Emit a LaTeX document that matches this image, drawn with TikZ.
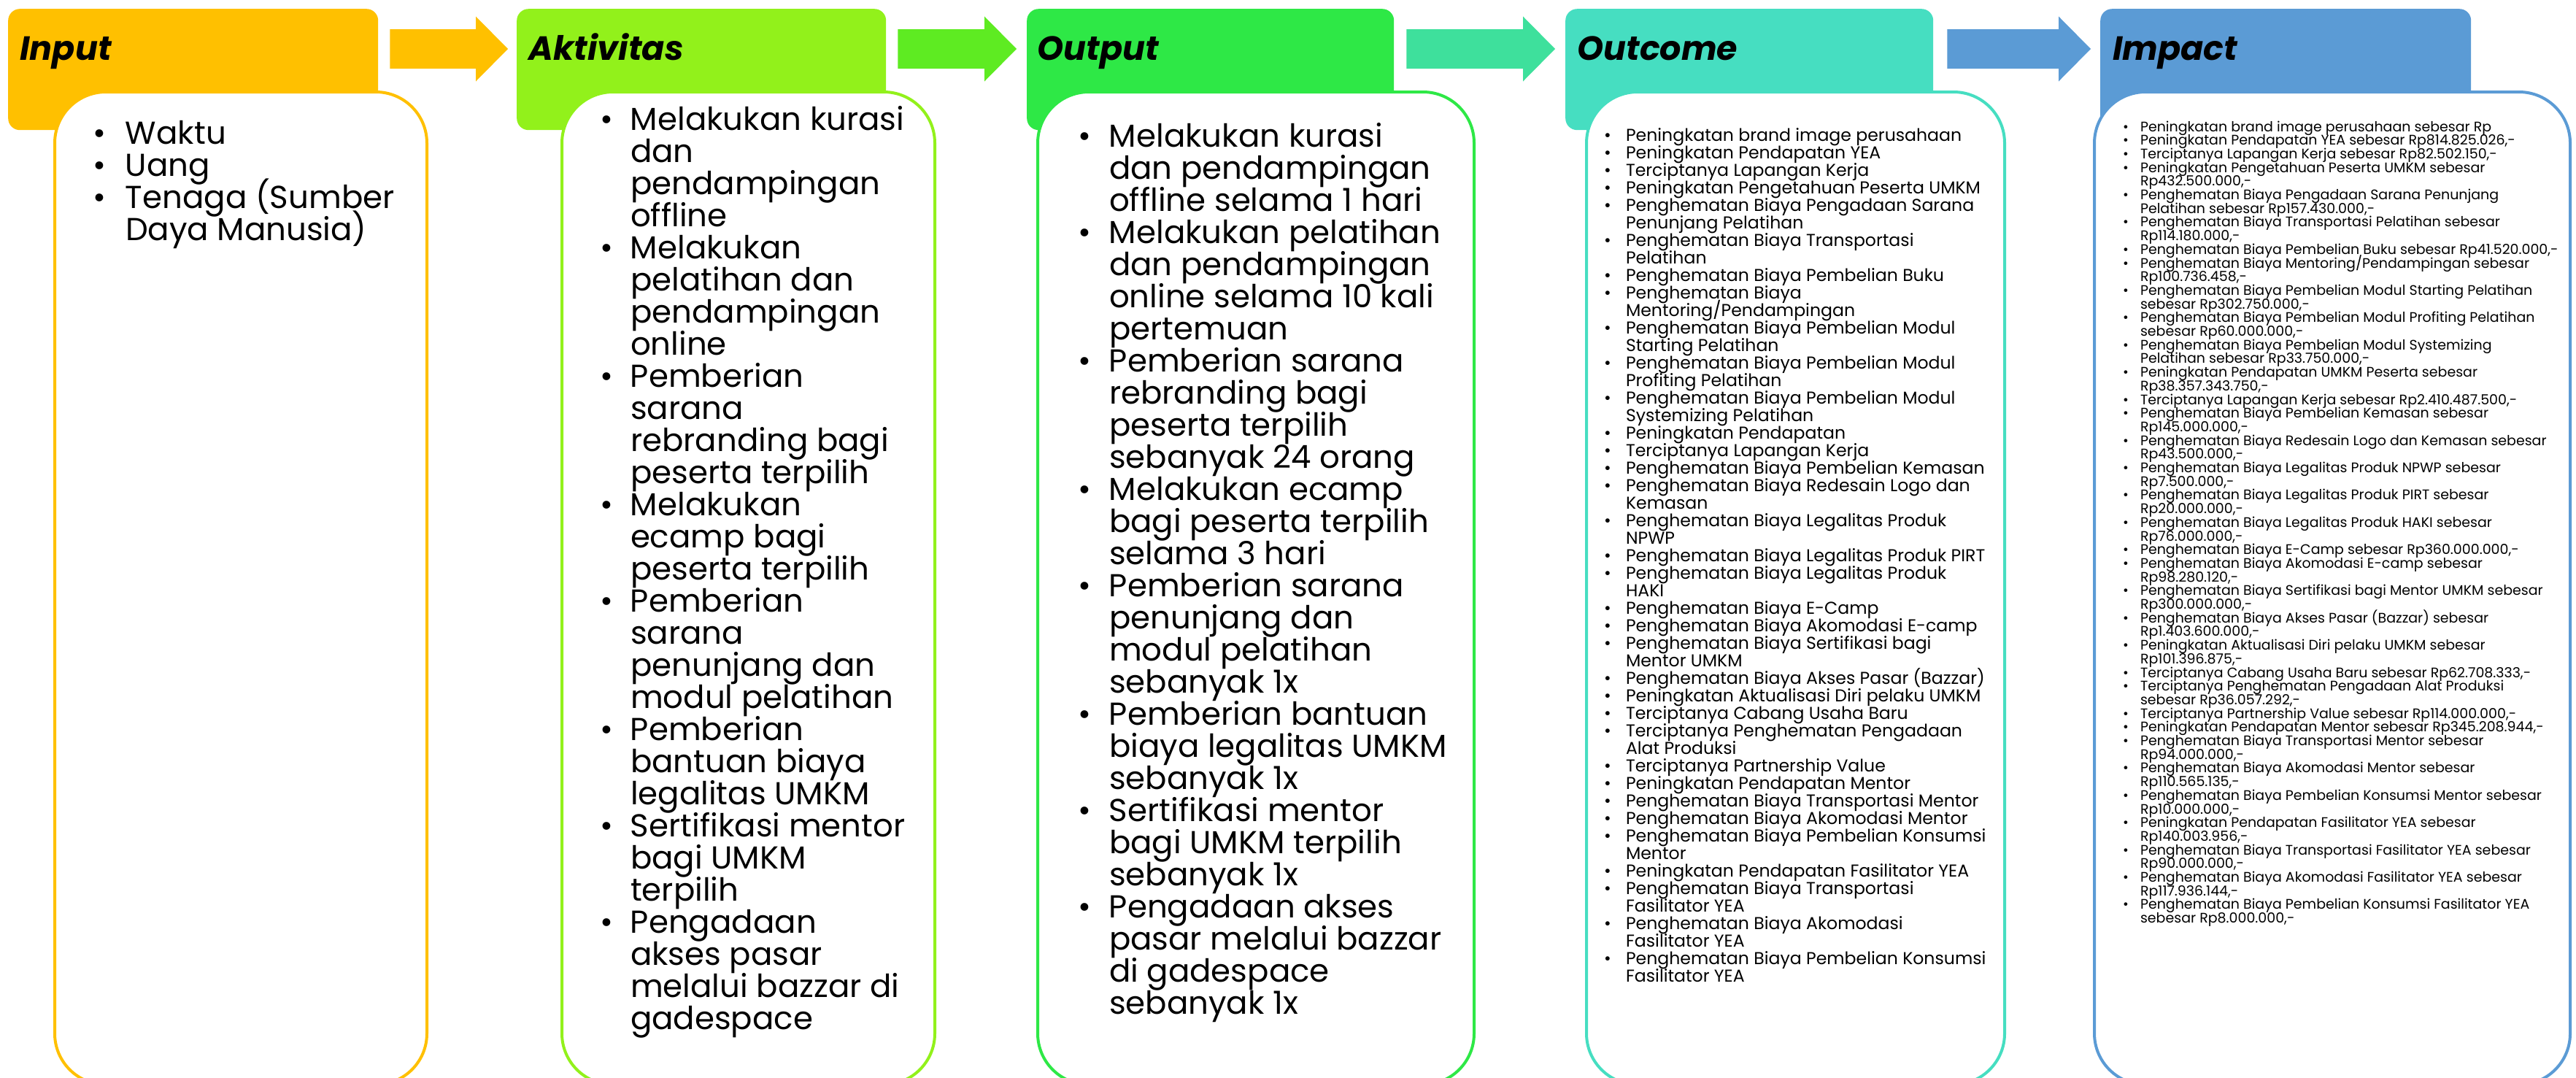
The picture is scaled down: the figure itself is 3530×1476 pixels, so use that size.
\documentclass[tikz,border=0pt]{standalone}
\usepackage{fontspec}
\setmainfont{Poppins}
\usetikzlibrary{calc}
\definecolor{cIn}{HTML}{FFC000}
\definecolor{cAk}{HTML}{92F11B}
\definecolor{cOp}{HTML}{2EE846}
\definecolor{cOc}{HTML}{46DEC1}
\definecolor{cIm}{HTML}{5B9BD5}
\definecolor{aAk}{HTML}{5EEB22}
\definecolor{aOc}{HTML}{3EE09C}
\newlength\bind
\newcommand\bi[1]{\hbox{\makebox[\bind][l]{\textbullet}#1}}
\newcommand\ci[1]{\hbox{\hspace*{\bind}#1}}
\newcommand\colfont[2]{\fontsize{#1}{#2}\selectfont\lineskiplimit=-1000pt\lineskip=0pt\relax}
\newcommand\blkarrow[3]{%
  \fill[#3] ($(#1)+(0,-27)$) -- ($(#2)+(-44,-27)$) -- ($(#2)+(-44,-44.5)$) -- (#2)
    -- ($(#2)+(-44,44.5)$) -- ($(#2)+(-44,27)$) -- ($(#1)+(0,27)$) -- cycle;}
\tikzset{
  hdr/.style={anchor=north west, rounded corners=16, minimum height=166, inner sep=0, draw=none},
  ttl/.style={anchor=base west, inner sep=0, font=\fontsize{46}{50}\selectfont\bfseries\itshape},
  wbox/.style={anchor=north west, fill=white, line width=4, rounded corners=70, minimum height=1360, inner sep=0},
  txt/.style={anchor=base west, inner sep=0, outer sep=0}
}
\begin{document}
\begin{tikzpicture}[x=1pt,y=-1pt]
\useasboundingbox (0,0) rectangle (3530,1476);
\fill[white] (0,0) rectangle (3530,1476);
% headers
\node[hdr, fill=cIn, minimum width=507] (inH) at (11,12) {};
\node[hdr, fill=cAk, minimum width=506] (akH) at (708,12) {};
\node[hdr, fill=cOp, minimum width=503] (opH) at (1407,12) {};
\node[hdr, fill=cOc, minimum width=504] (ocH) at (2145,12) {};
\node[hdr, fill=cIm, minimum width=508] (imH) at (2878,12) {};
% titles
\node[ttl] (inL) at ($(inH.north west)+(16,70)$) {Input};
\node[ttl] (akL) at ($(akH.north west)+(16,70)$) {Aktivitas};
\node[ttl] (opL) at ($(opH.north west)+(14,70)$) {Output};
\node[ttl] (ocL) at ($(ocH.north west)+(16,70)$) {Outcome};
\node[ttl] (imL) at ($(imH.north west)+(17,70)$) {Impact};
% arrows
\coordinate (a1s) at ($(inH.north east)+(16,55)$);
\coordinate (a1t) at ($(akH.north west)+(-12,55)$);
\coordinate (a2s) at ($(akH.north east)+(16,55)$);
\coordinate (a2t) at ($(opH.north west)+(-14,55)$);
\coordinate (a3s) at ($(opH.north east)+(17,55)$);
\coordinate (a3t) at ($(ocH.north west)+(-14,55)$);
\coordinate (a4s) at ($(ocH.north east)+(19,55)$);
\coordinate (a4t) at ($(imH.north west)+(-13,55)$);
\blkarrow{a1s}{a1t}{cIn}
\blkarrow{a2s}{a2t}{aAk}
\blkarrow{a3s}{a3t}{aOc}
\blkarrow{a4s}{a4t}{cIm}
% white boxes
\node[wbox, draw=cIn, minimum width=510] (inB) at (73,124) {};
\node[wbox, draw=cAk, minimum width=511] (akB) at (768,124) {};
\node[wbox, draw=cOp, minimum width=598] (opB) at (1420,124) {};
\node[wbox, draw=cOc, minimum width=573] (ocB) at (2172,124) {};
\node[wbox, draw=cIm, minimum width=652] (imB) at (2868,124) {};
% texts
\node[txt] (inT) at (127,197) {\vtop{\colfont{43.5}{44}\setlength\bind{45pt}%
\bi{Waktu}
\bi{Uang}
\bi{Tenaga (Sumber}
\ci{Daya Manusia)}}};
\node[txt] (akT) at (822,178) {\vtop{\colfont{43.5}{44}\setlength\bind{42pt}%
\bi{Melakukan kurasi}
\ci{dan}
\ci{pendampingan}
\ci{offline}
\bi{Melakukan}
\ci{pelatihan dan}
\ci{pendampingan}
\ci{online}
\bi{Pemberian}
\ci{sarana}
\ci{rebranding bagi}
\ci{peserta terpilih}
\bi{Melakukan}
\ci{ecamp bagi}
\ci{peserta terpilih}
\bi{Pemberian}
\ci{sarana}
\ci{penunjang dan}
\ci{modul pelatihan}
\bi{Pemberian}
\ci{bantuan biaya}
\ci{legalitas UMKM}
\bi{Sertifikasi mentor}
\ci{bagi UMKM}
\ci{terpilih}
\bi{Pengadaan}
\ci{akses pasar}
\ci{melalui bazzar di}
\ci{gadespace}}};
\node[txt] (opT) at (1477,201) {\vtop{\colfont{43.5}{44}\setlength\bind{43pt}%
\bi{Melakukan kurasi}
\ci{dan pendampingan}
\ci{offline selama 1 hari}
\bi{Melakukan pelatihan}
\ci{dan pendampingan}
\ci{online selama 10 kali}
\ci{pertemuan}
\bi{Pemberian sarana}
\ci{rebranding bagi}
\ci{peserta terpilih}
\ci{sebanyak 24 orang}
\bi{Melakukan ecamp}
\ci{bagi peserta terpilih}
\ci{selama 3 hari}
\bi{Pemberian sarana}
\ci{penunjang dan}
\ci{modul pelatihan}
\ci{sebanyak 1x}
\bi{Pemberian bantuan}
\ci{biaya legalitas UMKM}
\ci{sebanyak 1x}
\bi{Sertifikasi mentor}
\ci{bagi UMKM terpilih}
\ci{sebanyak 1x}
\bi{Pengadaan akses}
\ci{pasar melalui bazzar}
\ci{di gadespace}
\ci{sebanyak 1x}}};
\node[txt] (ocT) at (2198,193) {\vtop{\colfont{23.6}{24}\setlength\bind{30pt}%
\bi{Peningkatan brand image perusahaan}
\bi{Peningkatan Pendapatan YEA}
\bi{Terciptanya Lapangan Kerja}
\bi{Peningkatan Pengetahuan Peserta UMKM}
\bi{Penghematan Biaya Pengadaan Sarana}
\ci{Penunjang Pelatihan}
\bi{Penghematan Biaya Transportasi}
\ci{Pelatihan}
\bi{Penghematan Biaya Pembelian Buku}
\bi{Penghematan Biaya}
\ci{Mentoring/Pendampingan}
\bi{Penghematan Biaya Pembelian Modul}
\ci{Starting Pelatihan}
\bi{Penghematan Biaya Pembelian Modul}
\ci{Profiting Pelatihan}
\bi{Penghematan Biaya Pembelian Modul}
\ci{Systemizing Pelatihan}
\bi{Peningkatan Pendapatan}
\bi{Terciptanya Lapangan Kerja}
\bi{Penghematan Biaya Pembelian Kemasan}
\bi{Penghematan Biaya Redesain Logo dan}
\ci{Kemasan}
\bi{Penghematan Biaya Legalitas Produk}
\ci{NPWP}
\bi{Penghematan Biaya Legalitas Produk PIRT}
\bi{Penghematan Biaya Legalitas Produk}
\ci{HAKI}
\bi{Penghematan Biaya E-Camp}
\bi{Penghematan Biaya Akomodasi E-camp}
\bi{Penghematan Biaya Sertifikasi bagi}
\ci{Mentor UMKM}
\bi{Penghematan Biaya Akses Pasar (Bazzar)}
\bi{Peningkatan Aktualisasi Diri pelaku UMKM}
\bi{Terciptanya Cabang Usaha Baru}
\bi{Terciptanya Penghematan Pengadaan}
\ci{Alat Produksi}
\bi{Terciptanya Partnership Value}
\bi{Peningkatan Pendapatan Mentor}
\bi{Penghematan Biaya Transportasi Mentor}
\bi{Penghematan Biaya Akomodasi Mentor}
\bi{Penghematan Biaya Pembelian Konsumsi}
\ci{Mentor}
\bi{Peningkatan Pendapatan Fasilitator YEA}
\bi{Penghematan Biaya Transportasi}
\ci{Fasilitator YEA}
\bi{Penghematan Biaya Akomodasi}
\ci{Fasilitator YEA}
\bi{Penghematan Biaya Pembelian Konsumsi}
\ci{Fasilitator YEA}}};
\node[txt] (imT) at (2909,180) {\vtop{\colfont{19}{18.7}\setlength\bind{24pt}%
\bi{Peningkatan brand image perusahaan sebesar Rp}
\bi{Peningkatan Pendapatan YEA sebesar Rp814.825.026,-}
\bi{Terciptanya Lapangan Kerja sebesar Rp82.502.150,-}
\bi{Peningkatan Pengetahuan Peserta UMKM sebesar}
\ci{Rp432.500.000,-}
\bi{Penghematan Biaya Pengadaan Sarana Penunjang}
\ci{Pelatihan sebesar Rp157.430.000,-}
\bi{Penghematan Biaya Transportasi Pelatihan sebesar}
\ci{Rp114.180.000,-}
\bi{Penghematan Biaya Pembelian Buku sebesar Rp41.520.000,-}
\bi{Penghematan Biaya Mentoring/Pendampingan sebesar}
\ci{Rp100.736.458,-}
\bi{Penghematan Biaya Pembelian Modul Starting Pelatihan}
\ci{sebesar Rp302.750.000,-}
\bi{Penghematan Biaya Pembelian Modul Profiting Pelatihan}
\ci{sebesar Rp60.000.000,-}
\bi{Penghematan Biaya Pembelian Modul Systemizing}
\ci{Pelatihan sebesar Rp33.750.000,-}
\bi{Peningkatan Pendapatan UMKM Peserta sebesar}
\ci{Rp38.357.343.750,-}
\bi{Terciptanya Lapangan Kerja sebesar Rp2.410.487.500,-}
\bi{Penghematan Biaya Pembelian Kemasan sebesar}
\ci{Rp145.000.000,-}
\bi{Penghematan Biaya Redesain Logo dan Kemasan sebesar}
\ci{Rp43.500.000,-}
\bi{Penghematan Biaya Legalitas Produk NPWP sebesar}
\ci{Rp7.500.000,-}
\bi{Penghematan Biaya Legalitas Produk PIRT sebesar}
\ci{Rp20.000.000,-}
\bi{Penghematan Biaya Legalitas Produk HAKI sebesar}
\ci{Rp76.000.000,-}
\bi{Penghematan Biaya E-Camp sebesar Rp360.000.000,-}
\bi{Penghematan Biaya Akomodasi E-camp sebesar}
\ci{Rp98.280.120,-}
\bi{Penghematan Biaya Sertifikasi bagi Mentor UMKM sebesar}
\ci{Rp300.000.000,-}
\bi{Penghematan Biaya Akses Pasar (Bazzar) sebesar}
\ci{Rp1.403.600.000,-}
\bi{Peningkatan Aktualisasi Diri pelaku UMKM sebesar}
\ci{Rp101.396.875,-}
\bi{Terciptanya Cabang Usaha Baru sebesar Rp62.708.333,-}
\bi{Terciptanya Penghematan Pengadaan Alat Produksi}
\ci{sebesar Rp36.057.292,-}
\bi{Terciptanya Partnership Value sebesar Rp114.000.000,-}
\bi{Peningkatan Pendapatan Mentor sebesar Rp345.208.944,-}
\bi{Penghematan Biaya Transportasi Mentor sebesar}
\ci{Rp94.000.000,-}
\bi{Penghematan Biaya Akomodasi Mentor sebesar}
\ci{Rp110.565.135,-}
\bi{Penghematan Biaya Pembelian Konsumsi Mentor sebesar}
\ci{Rp10.000.000,-}
\bi{Peningkatan Pendapatan Fasilitator YEA sebesar}
\ci{Rp140.003.956,-}
\bi{Penghematan Biaya Transportasi Fasilitator YEA sebesar}
\ci{Rp90.000.000,-}
\bi{Penghematan Biaya Akomodasi Fasilitator YEA sebesar}
\ci{Rp117.936.144,-}
\bi{Penghematan Biaya Pembelian Konsumsi Fasilitator YEA}
\ci{sebesar Rp8.000.000,-}}};
\end{tikzpicture}
\end{document}
